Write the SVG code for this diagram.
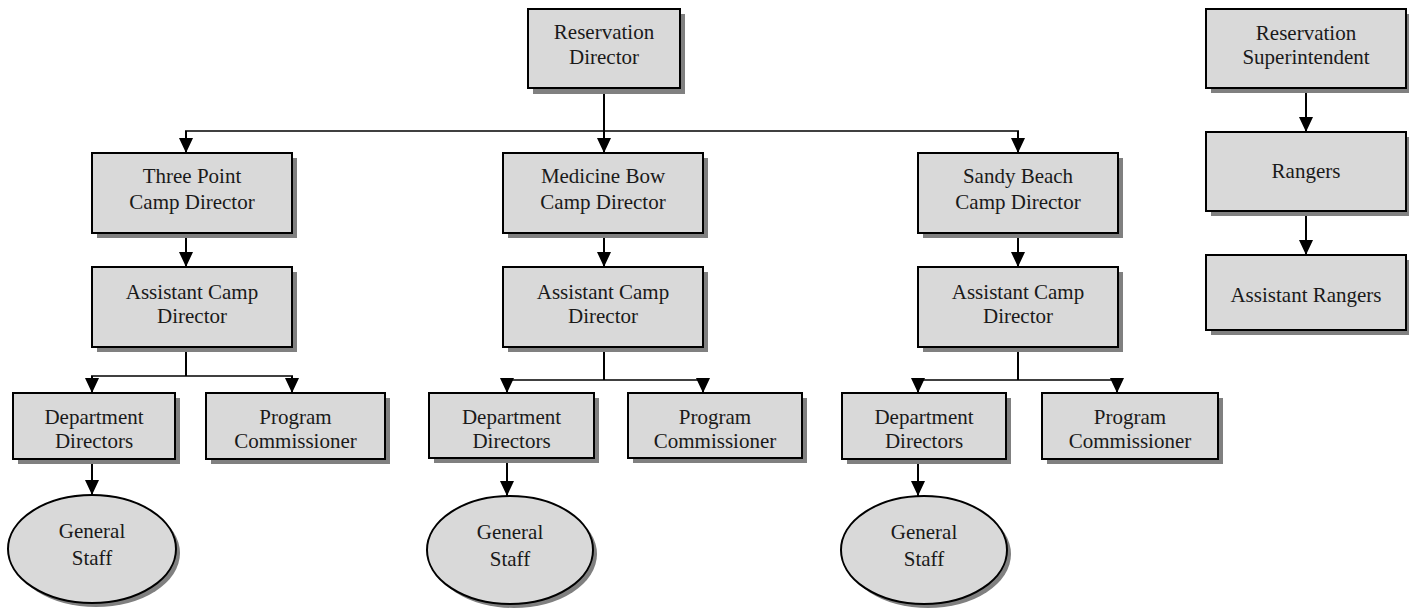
<svg xmlns="http://www.w3.org/2000/svg" width="1409" height="608" viewBox="0 0 1409 608">
<defs>
<style>
.box{fill:#d9d9d9;stroke:#000;stroke-width:2}
.sh{fill:#808080}
.t{font-family:"Liberation Serif","Times New Roman",serif;font-size:21px;fill:#1a1a1a;text-anchor:middle}
.c{fill:none;stroke:#000;stroke-width:2}
.h{fill:none;stroke:#000;stroke-width:1.6}
</style>
<marker id="ah" markerUnits="userSpaceOnUse" markerWidth="16" markerHeight="16" viewBox="0 0 16 16" refX="15" refY="8" orient="auto">
<path d="M0,1 L15,8 L0,15 Z" fill="#000"/>
</marker>
</defs>
<rect width="1409" height="608" fill="#fff"/>
<g id="connectors">
<line class="c" x1="604" y1="88" x2="604" y2="131"/>
<line class="h" x1="185" y1="131" x2="1019" y2="131"/>
<line class="c" x1="186" y1="131" x2="186" y2="153" marker-end="url(#ah)"/>
<line class="c" x1="604" y1="131" x2="604" y2="153" marker-end="url(#ah)"/>
<line class="c" x1="1018" y1="131" x2="1018" y2="153" marker-end="url(#ah)"/>
<line class="c" x1="186" y1="233" x2="186" y2="267" marker-end="url(#ah)"/>
<line class="c" x1="604" y1="233" x2="604" y2="267" marker-end="url(#ah)"/>
<line class="c" x1="1018" y1="233" x2="1018" y2="267" marker-end="url(#ah)"/>
<line class="c" x1="186" y1="347" x2="186" y2="376"/>
<line class="h" x1="91" y1="376" x2="293" y2="376"/>
<line class="c" x1="92" y1="376" x2="92" y2="393" marker-end="url(#ah)"/>
<line class="c" x1="292" y1="376" x2="292" y2="393" marker-end="url(#ah)"/>
<line class="c" x1="604" y1="347" x2="604" y2="380"/>
<line class="h" x1="506" y1="380" x2="704" y2="380"/>
<line class="c" x1="507" y1="380" x2="507" y2="393" marker-end="url(#ah)"/>
<line class="c" x1="703" y1="380" x2="703" y2="393" marker-end="url(#ah)"/>
<line class="c" x1="1018" y1="347" x2="1018" y2="380"/>
<line class="h" x1="917" y1="380" x2="1118" y2="380"/>
<line class="c" x1="918" y1="380" x2="918" y2="393" marker-end="url(#ah)"/>
<line class="c" x1="1117" y1="380" x2="1117" y2="393" marker-end="url(#ah)"/>
<line class="c" x1="92" y1="459" x2="92" y2="495" marker-end="url(#ah)"/>
<line class="c" x1="507" y1="458" x2="507" y2="496" marker-end="url(#ah)"/>
<line class="c" x1="918" y1="459" x2="918" y2="496" marker-end="url(#ah)"/>
<line class="c" x1="1306" y1="88" x2="1306" y2="132" marker-end="url(#ah)"/>
<line class="c" x1="1306" y1="211" x2="1306" y2="255" marker-end="url(#ah)"/>
</g>
<g id="reservation-director">
<rect class="sh" x="533" y="14" width="152" height="80"/>
<rect class="box" x="528" y="9" width="152" height="79"/>
<text class="t" x="604" y="39">Reservation</text>
<text class="t" x="604" y="64">Director</text>
</g>
<g id="three-point-director">
<rect class="sh" x="97" y="158" width="200" height="80"/>
<rect class="box" x="92" y="153" width="200" height="80"/>
<text class="t" x="192" y="183">Three Point</text>
<text class="t" x="192" y="209">Camp Director</text>
</g>
<g id="medicine-bow-director">
<rect class="sh" x="508" y="158" width="200" height="80"/>
<rect class="box" x="503" y="153" width="200" height="80"/>
<text class="t" x="603" y="183">Medicine Bow</text>
<text class="t" x="603" y="209">Camp Director</text>
</g>
<g id="sandy-beach-director">
<rect class="sh" x="923" y="158" width="200" height="80"/>
<rect class="box" x="918" y="153" width="200" height="80"/>
<text class="t" x="1018" y="183">Sandy Beach</text>
<text class="t" x="1018" y="209">Camp Director</text>
</g>
<g id="three-point-assistant">
<rect class="sh" x="97" y="272" width="200" height="80"/>
<rect class="box" x="92" y="267" width="200" height="80"/>
<text class="t" x="192" y="299">Assistant Camp</text>
<text class="t" x="192" y="323">Director</text>
</g>
<g id="medicine-bow-assistant">
<rect class="sh" x="508" y="272" width="200" height="80"/>
<rect class="box" x="503" y="267" width="200" height="80"/>
<text class="t" x="603" y="299">Assistant Camp</text>
<text class="t" x="603" y="323">Director</text>
</g>
<g id="sandy-beach-assistant">
<rect class="sh" x="923" y="272" width="200" height="80"/>
<rect class="box" x="918" y="267" width="200" height="80"/>
<text class="t" x="1018" y="299">Assistant Camp</text>
<text class="t" x="1018" y="323">Director</text>
</g>
<g id="three-point-dept">
<rect class="sh" x="18" y="398" width="162" height="66"/>
<rect class="box" x="13" y="393" width="162" height="66"/>
<text class="t" x="94" y="424">Department</text>
<text class="t" x="94" y="448">Directors</text>
</g>
<g id="three-point-program">
<rect class="sh" x="211" y="398" width="179" height="66"/>
<rect class="box" x="206" y="393" width="179" height="66"/>
<text class="t" x="295.5" y="424">Program</text>
<text class="t" x="295.5" y="448">Commissioner</text>
</g>
<g id="medicine-bow-dept">
<rect class="sh" x="434" y="398" width="165" height="65"/>
<rect class="box" x="429" y="393" width="165" height="65"/>
<text class="t" x="511.5" y="424">Department</text>
<text class="t" x="511.5" y="448">Directors</text>
</g>
<g id="medicine-bow-program">
<rect class="sh" x="633" y="398" width="174" height="65"/>
<rect class="box" x="628" y="393" width="174" height="65"/>
<text class="t" x="715" y="424">Program</text>
<text class="t" x="715" y="448">Commissioner</text>
</g>
<g id="sandy-beach-dept">
<rect class="sh" x="847" y="398" width="164" height="66"/>
<rect class="box" x="842" y="393" width="164" height="66"/>
<text class="t" x="924" y="424">Department</text>
<text class="t" x="924" y="448">Directors</text>
</g>
<g id="sandy-beach-program">
<rect class="sh" x="1047" y="398" width="176" height="66"/>
<rect class="box" x="1042" y="393" width="176" height="66"/>
<text class="t" x="1130" y="424">Program</text>
<text class="t" x="1130" y="448">Commissioner</text>
</g>
<g id="three-point-staff">
<ellipse class="sh" cx="96" cy="553" rx="84" ry="54"/>
<ellipse class="box" cx="92" cy="549" rx="84" ry="54"/>
<text class="t" x="92" y="538">General</text>
<text class="t" x="92" y="565">Staff</text>
</g>
<g id="medicine-bow-staff">
<ellipse class="sh" cx="514" cy="554" rx="83" ry="54"/>
<ellipse class="box" cx="510" cy="550" rx="83" ry="54"/>
<text class="t" x="510" y="539">General</text>
<text class="t" x="510" y="566">Staff</text>
</g>
<g id="sandy-beach-staff">
<ellipse class="sh" cx="928" cy="554" rx="83" ry="54"/>
<ellipse class="box" cx="924" cy="550" rx="83" ry="54"/>
<text class="t" x="924" y="539">General</text>
<text class="t" x="924" y="566">Staff</text>
</g>
<g id="superintendent">
<rect class="sh" x="1211" y="14" width="200" height="79"/>
<rect class="box" x="1206" y="9" width="200" height="79"/>
<text class="t" x="1306" y="40">Reservation</text>
<text class="t" x="1306" y="64">Superintendent</text>
</g>
<g id="rangers">
<rect class="sh" x="1211" y="137" width="200" height="79"/>
<rect class="box" x="1206" y="132" width="200" height="79"/>
<text class="t" x="1306" y="178">Rangers</text>
</g>
<g id="assistant-rangers">
<rect class="sh" x="1211" y="260" width="200" height="75"/>
<rect class="box" x="1206" y="255" width="200" height="75"/>
<text class="t" x="1306" y="302">Assistant Rangers</text>
</g>
</svg>
